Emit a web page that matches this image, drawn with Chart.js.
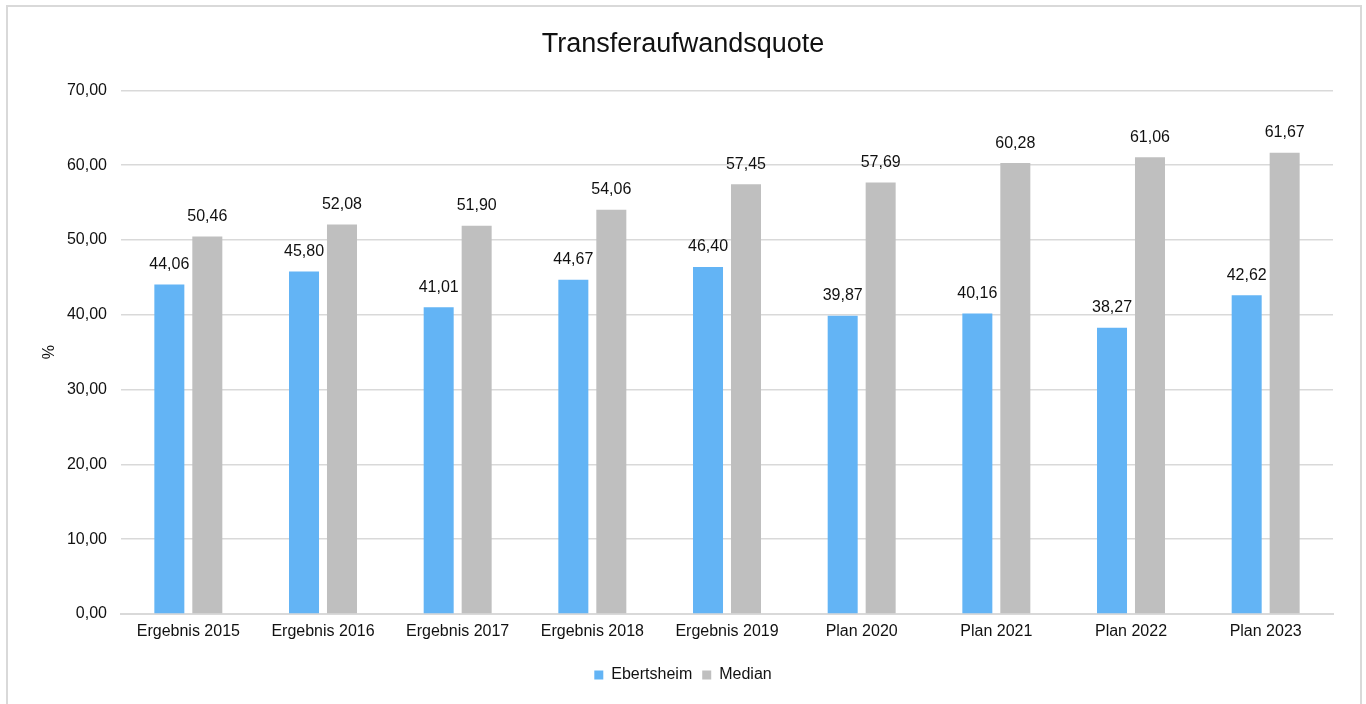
<!DOCTYPE html>
<html>
<head>
<meta charset="utf-8">
<script src="https://cdn.jsdelivr.net/npm/chart.js@4"></script>
<style>
html,body{margin:0;padding:0;background:#fff;overflow:hidden;}
#wrap{position:relative;width:1366px;height:704px;}
</style>
</head>
<body>
<div id="wrap"><canvas id="c" width="1366" height="704"></canvas></div>
<script>
const categories = ["Ergebnis 2015","Ergebnis 2016","Ergebnis 2017","Ergebnis 2018","Ergebnis 2019","Plan 2020","Plan 2021","Plan 2022","Plan 2023"];
const ebertsheim = [44.06, 45.80, 41.01, 44.67, 46.40, 39.87, 40.16, 38.27, 42.62];
const median = [50.46, 52.08, 51.90, 54.06, 57.45, 57.69, 60.28, 61.06, 61.67];
const seriesNames = ["Ebertsheim", "Median"];
const chartTitle = "Transferaufwandsquote";
const yAxisTitle = "%";

const FONT = "'Liberation Sans', Arial, sans-serif";
const TXT = "#111111";
const fmt = v => v.toLocaleString('de-DE', {minimumFractionDigits: 2, maximumFractionDigits: 2});

const frame = {
  id: 'frame',
  beforeDraw(chart) {
    const ctx = chart.ctx;
    ctx.save();
    ctx.fillStyle = '#fff';
    ctx.fillRect(0, 0, chart.width, chart.height);
    ctx.strokeStyle = '#d9d9d9';
    ctx.lineWidth = 2;
    ctx.beginPath();
    ctx.moveTo(7, 710);
    ctx.lineTo(7, 6);
    ctx.lineTo(1361, 6);
    ctx.lineTo(1361, 710);
    ctx.stroke();
    ctx.restore();
  }
};

const valueLabels = {
  id: 'valueLabels',
  afterDatasetsDraw(chart) {
    const ctx = chart.ctx;
    ctx.save();
    ctx.font = "16px " + FONT;
    ctx.fillStyle = TXT;
    ctx.textAlign = 'center';
    ctx.textBaseline = 'middle';
    chart.data.datasets.forEach((ds, i) => {
      const meta = chart.getDatasetMeta(i);
      meta.data.forEach((bar, j) => {
        ctx.fillText(fmt(ds.data[j]), bar.x, bar.y - 20);
      });
    });
    ctx.restore();
  }
};

new Chart(document.getElementById('c'), {
  type: 'bar',
  data: {
    labels: categories,
    datasets: [
      {label: seriesNames[0], data: ebertsheim, backgroundColor: '#63b4f5', barPercentage: 0.79, categoryPercentage: 0.564},
      {label: seriesNames[1], data: median, backgroundColor: '#bfbfbf', barPercentage: 0.79, categoryPercentage: 0.564}
    ]
  },
  options: {
    responsive: false,
    animation: false,
    devicePixelRatio: 1,
    layout: {padding: {left: 0, right: 0, top: 0, bottom: 11}},
    plugins: {
      title: {
        display: true, text: chartTitle, color: TXT,
        font: {family: FONT, size: 27, weight: 'normal'},
        padding: {top: 28, bottom: 30}
      },
      legend: {
        position: 'bottom',
        labels: {
          color: TXT, font: {family: FONT, size: 16},
          boxWidth: 9, boxHeight: 9, padding: 10
        }
      },
      tooltip: {enabled: false}
    },
    scales: {
      x: {
        grid: {display: false, drawTicks: false},
        border: {display: true, color: '#d9d9d9', width: 2},
        ticks: {color: TXT, font: {family: FONT, size: 16}, padding: 8, maxRotation: 0},
        afterFit(s) { s.height = 43; }
      },
      y: {
        min: 0, max: 70,
        grid: {color: '#d9d9d9', lineWidth: 1.5, drawTicks: false},
        border: {display: false},
        ticks: {stepSize: 10, color: TXT, font: {family: FONT, size: 16}, padding: 14, callback: v => fmt(v)},
        title: {display: true, text: yAxisTitle, color: TXT, font: {family: FONT, size: 16}, padding: {top: 40, bottom: 0}},
        afterFit(s) { s.width = 121; }
      },
      yRight: {
        position: 'right',
        min: 0, max: 70,
        grid: {display: false, drawTicks: false},
        border: {display: false},
        ticks: {display: false},
        afterFit(s) { s.width = 33; }
      }
    }
  },
  plugins: [frame, valueLabels]
});
</script>
</body>
</html>
